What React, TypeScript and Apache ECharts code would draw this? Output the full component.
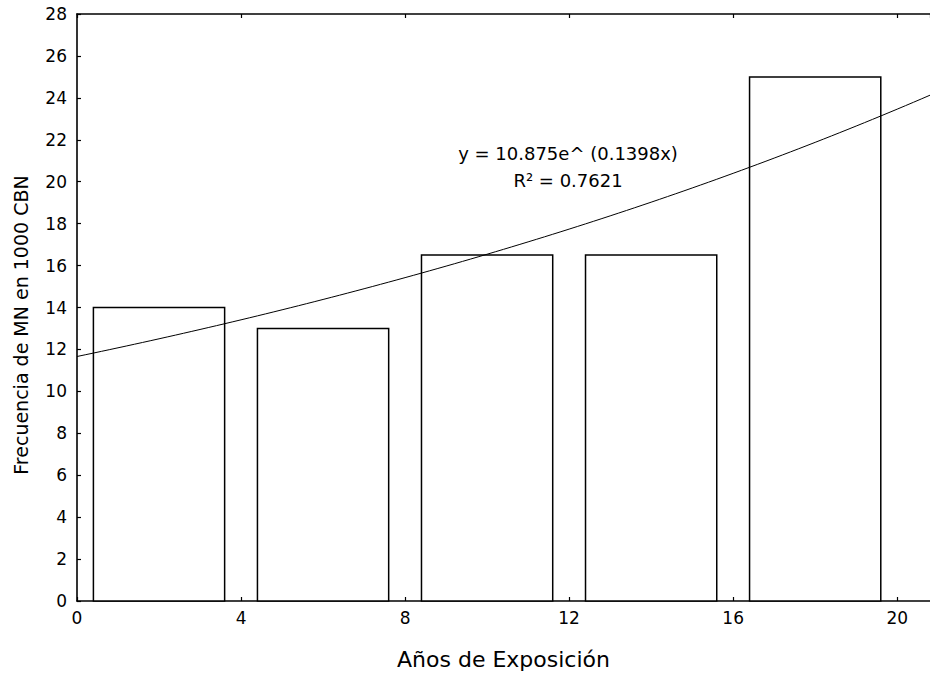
import React, { useEffect, useRef } from "react";
import * as echarts from "echarts";

// Bar data: center of each exposure class (years) and frequency
const barCenters = [2, 6, 10, 14, 18];
const barValues = [14, 13, 16.5, 16.5, 25];
const BAR_HALF_WIDTH = 1.6;

// Axis setup
const X_MIN = 0;
const X_MAX = 20.8;
const X_INTERVAL = 4;
const Y_MIN = 0;
const Y_MAX = 28;
const Y_INTERVAL = 2;

// Exponential trend line shown on the chart: y = A e^(B t), t = class index (1..5)
const TREND_A = 10.875;
const TREND_B = 0.1398;
const trendLabel1 = "y = 10.875e^ (0.1398x)";
const trendLabel2 = "R\u00B2 = 0.7621";

const xTitle = "A\u00F1os de Exposici\u00F3n";
const yTitle = "Frecuencia de MN en 1000 CBN";

const FONT = "DejaVu Sans";

function trendPoints(): number[][] {
  const pts: number[][] = [];
  const steps = 104;
  for (let i = 0; i <= steps; i++) {
    const x = X_MIN + ((X_MAX - X_MIN) * i) / steps;
    const t = x / X_INTERVAL + 0.5; // class index corresponding to x
    pts.push([x, TREND_A * Math.exp(TREND_B * t)]);
  }
  return pts;
}

export default function App() {
  const ref = useRef<HTMLDivElement>(null);

  useEffect(() => {
    if (!ref.current) return;
    const chart = echarts.init(ref.current, undefined, { renderer: "svg" });
    const barData = barCenters.map((c, i) => [c, barValues[i]]);
    const axisLine = { show: true, lineStyle: { color: "#000", width: 1.6 } };
    chart.setOption({
      animation: false,
      backgroundColor: "#fff",
      grid: { left: 77, top: 14, right: 0, bottom: 77, containLabel: false },
      xAxis: [
        {
          type: "value",
          position: "bottom",
          min: X_MIN,
          max: X_MAX,
          interval: X_INTERVAL,
          axisLine,
          axisTick: { show: true, inside: true, length: 4, lineStyle: { color: "#000", width: 1.2 } },
          axisLabel: { show: true, color: "#000", fontFamily: FONT, fontSize: 17, margin: 8, showMaxLabel: false },
          splitLine: { show: false },
          name: xTitle,
          nameLocation: "middle",
          nameGap: 47,
          nameTextStyle: { color: "#000", fontFamily: FONT, fontSize: 22 },
        },
        {
          type: "value",
          position: "top",
          min: X_MIN,
          max: X_MAX,
          interval: X_INTERVAL,
          axisLine,
          axisTick: { show: true, inside: true, length: 4, lineStyle: { color: "#000", width: 1.2 } },
          axisLabel: { show: false },
          splitLine: { show: false },
        },
      ],
      yAxis: {
        type: "value",
        min: Y_MIN,
        max: Y_MAX,
        interval: Y_INTERVAL,
        axisLine,
        axisTick: { show: true, inside: true, length: 4, lineStyle: { color: "#000", width: 1.2 } },
        axisLabel: { color: "#000", fontFamily: FONT, fontSize: 17, margin: 10 },
        splitLine: { show: false },
      },
      graphic: [
        {
          type: "text",
          x: 21,
          y: 325,
          rotation: Math.PI / 2,
          style: {
            text: yTitle,
            fill: "#000",
            font: `19px "${FONT}"`,
            align: "center",
            verticalAlign: "middle",
          },
        },
        {
          type: "text",
          x: 568,
          y: 153,
          style: { text: trendLabel1, fill: "#000", font: `18px "${FONT}"`, align: "center", verticalAlign: "middle" },
        },
        {
          type: "text",
          x: 568,
          y: 180,
          style: { text: trendLabel2, fill: "#000", font: `18px "${FONT}"`, align: "center", verticalAlign: "middle" },
        },
      ],
      series: [
        {
          type: "custom",
          xAxisIndex: 0,
          yAxisIndex: 0,
          encode: { x: 0, y: 1 },
          data: barData,
          z: 2,
          renderItem: (params: any, api: any) => {
            const x = api.value(0);
            const y = api.value(1);
            const p0 = api.coord([x - BAR_HALF_WIDTH, y]);
            const p1 = api.coord([x + BAR_HALF_WIDTH, 0]);
            return {
              type: "rect",
              shape: { x: p0[0], y: p0[1], width: p1[0] - p0[0], height: p1[1] - p0[1] },
              style: { fill: "#fff", stroke: "#000", lineWidth: 1.5 },
            };
          },
        },
        {
          type: "line",
          xAxisIndex: 0,
          yAxisIndex: 0,
          data: trendPoints(),
          showSymbol: false,
          symbol: "none",
          smooth: false,
          z: 3,
          lineStyle: { color: "#000", width: 1 },
        },
      ],
    });
    return () => chart.dispose();
  }, []);

  return (
    <div
      ref={ref}
      style={{ position: "absolute", left: 0, top: 0, width: 930, height: 678 }}
    />
  );
}
